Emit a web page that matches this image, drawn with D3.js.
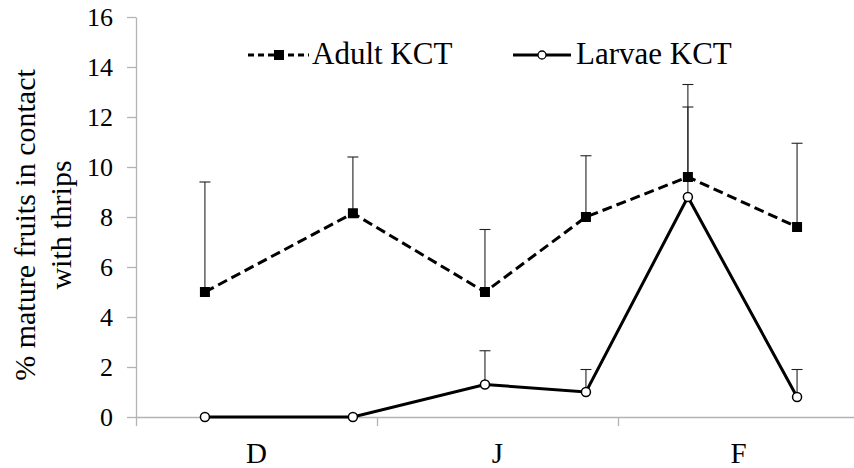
<html>
  <head>
    <title>Thrips on mature fruits</title>
    <style>
      body { margin: 0; background: #fff; }
      .axis path, .axis line { stroke: #b3b3b3; stroke-width: 1.3; }
    </style>
  </head>
  <body>
    <script type="text/javascript" src="https://d3js.org/d3.v7.min.js"></script>
    <script type="text/javascript">
    // months shown on the x axis
    var categories = ["D", "J", "F"];
    // sampling positions, in months counted from the start of D
    var samplePos = [0.286, 0.900, 1.448, 1.867, 2.290, 2.743];
    var adult = [5.0, 8.15, 5.0, 8.0, 9.6, 7.6];
    var adultErr = [4.4, 2.25, 2.5, 2.45, 3.7, 3.35];
    var larvae = [0.0, 0.0, 1.3, 1.0, 8.8, 0.8];
    var larvaeErr = [0, 0, 1.35, 0.9, 3.6, 1.1];
    var yTicks = [0, 2, 4, 6, 8, 10, 12, 14, 16];

    var width = 854, height = 468;
    var serif = "'Liberation Serif', 'Times New Roman', serif";

    var svg = d3.select("body").append("svg")
        .attr("width", width)
        .attr("height", height)
        .attr("font-family", serif);

    var x = d3.scaleLinear().domain([0, 3]).range([136, 859]);
    var y = d3.scaleLinear().domain([0, 16]).range([417, 17]);

    // y axis
    var yg = svg.append("g")
        .attr("class", "axis")
        .attr("transform", "translate(" + x(0) + ",0)")
        .call(d3.axisLeft(y).tickValues(yTicks).tickSize(9).tickPadding(14).tickSizeOuter(0));
    yg.attr("font-family", null).attr("font-size", null);
    yg.selectAll("text")
        .style("font-family", serif)
        .style("font-size", "26px")
        .attr("fill", "#000")
        .attr("dy", "0.33em");

    // x axis: month boundaries
    svg.append("g")
        .attr("class", "axis")
        .attr("transform", "translate(0," + y(0) + ")")
        .call(d3.axisBottom(x).tickValues([0, 1, 2, 3]).tickFormat("").tickSize(9).tickSizeOuter(0));

    // month labels, centred in each month
    svg.selectAll(".month")
        .data(categories)
      .enter().append("text")
        .attr("class", "month")
        .attr("x", function(d, i) { return x(i + 0.5); })
        .attr("y", 463)
        .attr("text-anchor", "middle")
        .style("font-family", serif)
        .style("font-size", "29px")
        .text(function(d) { return d; });

    // y title
    var title = svg.append("text")
        .attr("transform", "translate(35,225) rotate(-90)")
        .attr("text-anchor", "middle")
        .style("font-family", serif)
        .style("font-size", "30px");
    title.append("tspan").attr("x", 0).attr("y", 0).text("% mature fruits in contact");
    title.append("tspan").attr("x", 0).attr("y", 36).text("with thrips");

    function errorBars(vals, errs, cls) {
      var g = svg.append("g").attr("class", cls);
      vals.forEach(function(v, i) {
        if (!errs[i]) return;
        var cx = x(samplePos[i]);
        g.append("line")
          .attr("x1", cx).attr("x2", cx)
          .attr("y1", y(v)).attr("y2", y(v + errs[i]))
          .attr("stroke", "#222").attr("stroke-width", 1.1);
        g.append("line")
          .attr("x1", cx - 5.5).attr("x2", cx + 5.5)
          .attr("y1", y(v + errs[i])).attr("y2", y(v + errs[i]))
          .attr("stroke", "#222").attr("stroke-width", 1.1);
      });
    }
    errorBars(adult, adultErr, "err-adult");
    errorBars(larvae, larvaeErr, "err-larvae");

    var line = d3.line()
        .x(function(d, i) { return x(samplePos[i]); })
        .y(function(d) { return y(d); });

    svg.append("path")
        .datum(adult)
        .attr("d", line)
        .attr("fill", "none")
        .attr("stroke", "#000")
        .attr("stroke-width", 3)
        .attr("stroke-dasharray", "10,5");

    svg.append("path")
        .datum(larvae)
        .attr("d", line)
        .attr("fill", "none")
        .attr("stroke", "#000")
        .attr("stroke-width", 3);

    svg.selectAll(".sq")
        .data(adult)
      .enter().append("rect")
        .attr("class", "sq")
        .attr("x", function(d, i) { return x(samplePos[i]) - 5; })
        .attr("y", function(d) { return y(d) - 5; })
        .attr("width", 10).attr("height", 10)
        .attr("fill", "#000");

    svg.selectAll(".dot")
        .data(larvae)
      .enter().append("circle")
        .attr("class", "dot")
        .attr("cx", function(d, i) { return x(samplePos[i]); })
        .attr("cy", function(d) { return y(d); })
        .attr("r", 4.5)
        .attr("fill", "#fff")
        .attr("stroke", "#000")
        .attr("stroke-width", 1.5);

    // legend
    var lg = svg.append("g").attr("class", "legend");
    lg.append("line")
        .attr("x1", 248).attr("x2", 309).attr("y1", 55).attr("y2", 55)
        .attr("stroke", "#000").attr("stroke-width", 3)
        .attr("stroke-dasharray", "6,4");
    lg.append("rect")
        .attr("x", 274).attr("y", 50).attr("width", 10).attr("height", 10)
        .attr("fill", "#000");
    lg.append("text")
        .attr("x", 312).attr("y", 64)
        .style("font-family", serif)
        .style("font-size", "31px")
        .text("Adult KCT");
    lg.append("line")
        .attr("x1", 513).attr("x2", 571).attr("y1", 55).attr("y2", 55)
        .attr("stroke", "#000").attr("stroke-width", 3);
    lg.append("circle")
        .attr("cx", 542).attr("cy", 55).attr("r", 4)
        .attr("fill", "#fff").attr("stroke", "#000").attr("stroke-width", 1.3);
    lg.append("text")
        .attr("x", 576).attr("y", 64)
        .style("font-family", serif)
        .style("font-size", "31px")
        .text("Larvae KCT");
    </script>
  </body>
</html>
